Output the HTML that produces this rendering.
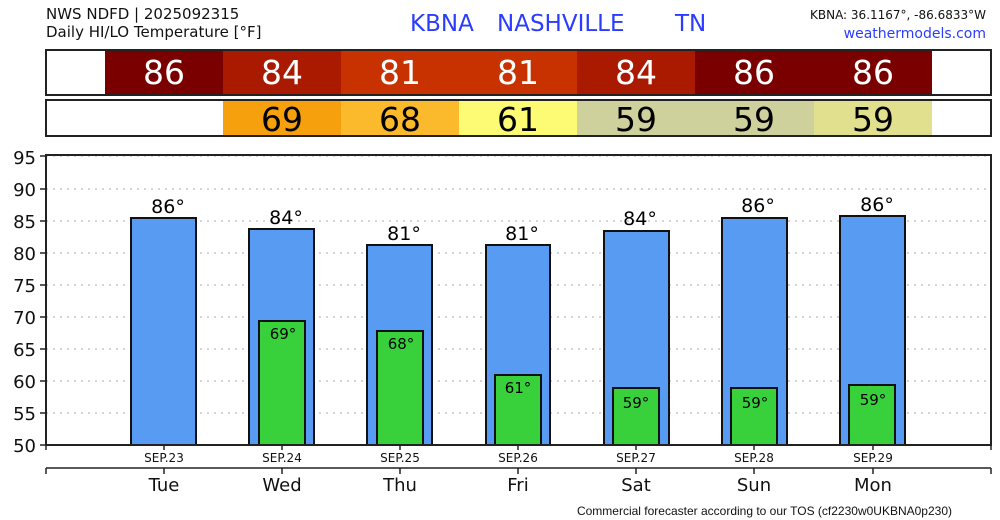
<!DOCTYPE html>
<html><head><style>body{margin:0;background:#fff}svg{display:block}</style></head><body>
<svg width="1000" height="520" xmlns="http://www.w3.org/2000/svg" font-family="DejaVu Sans, Liberation Sans, sans-serif">
<rect width="1000" height="520" fill="#fff"/>
<text x="46" y="19" font-size="15" fill="#111">NWS NDFD | 2025092315</text>
<text x="46" y="37" font-size="15" fill="#111">Daily HI/LO Temperature [°F]</text>
<text x="410" y="31" font-size="23" fill="#2a3cff">KBNA</text>
<text x="497" y="31" font-size="23" fill="#2a3cff">NASHVILLE</text>
<text x="675" y="31" font-size="23" fill="#2a3cff">TN</text>
<text x="986" y="19" font-size="12" fill="#111" text-anchor="end">KBNA: 36.1167°, -86.6833°W</text>
<text x="986" y="38" font-size="14" fill="#2a3cff" text-anchor="end">weathermodels.com</text>
<!-- row 1 -->
<rect x="46" y="50" width="945" height="45" fill="#fff" stroke="#222" stroke-width="2"/>
<rect x="105" y="51" width="118" height="43" fill="#7a0000"/>
<rect x="223" y="51" width="118" height="43" fill="#aa1a00"/>
<rect x="341" y="51" width="236" height="43" fill="#c83200"/>
<rect x="577" y="51" width="118" height="43" fill="#aa1a00"/>
<rect x="695" y="51" width="237" height="43" fill="#7a0000"/>
<g font-size="33" fill="#fff" text-anchor="middle">
<text x="164" y="84">86</text><text x="282" y="84">84</text><text x="400" y="84">81</text><text x="518" y="84">81</text><text x="636" y="84">84</text><text x="754" y="84">86</text><text x="873" y="84">86</text></g>
<!-- row 2 -->
<rect x="46" y="100" width="945" height="36" fill="#fff" stroke="#222" stroke-width="2"/>
<rect x="223" y="101" width="118" height="34" fill="#f7a00e"/>
<rect x="341" y="101" width="118" height="34" fill="#fbb92c"/>
<rect x="459" y="101" width="118" height="34" fill="#fdfb74"/>
<rect x="577" y="101" width="237" height="34" fill="#cfd19c"/>
<rect x="814" y="101" width="118" height="34" fill="#e0e08f"/>
<g font-size="33" fill="#000" text-anchor="middle">
<text x="282" y="131">69</text><text x="400" y="131">68</text><text x="518" y="131">61</text><text x="636" y="131">59</text><text x="754" y="131">59</text><text x="873" y="131">59</text></g>
<!-- grid -->
<g stroke="#aaa" stroke-width="1" stroke-dasharray="2,5">
<line x1="46" x2="991" y1="156" y2="156"/><line x1="46" x2="991" y1="189" y2="189"/><line x1="46" x2="991" y1="221" y2="221"/><line x1="46" x2="991" y1="253" y2="253"/><line x1="46" x2="991" y1="285" y2="285"/><line x1="46" x2="991" y1="317" y2="317"/><line x1="46" x2="991" y1="349" y2="349"/><line x1="46" x2="991" y1="381" y2="381"/><line x1="46" x2="991" y1="413" y2="413"/></g>
<g font-size="18" fill="#111" text-anchor="end">
<text x="36" y="164">95</text><text x="36" y="196">90</text><text x="36" y="228">85</text><text x="36" y="260">80</text><text x="36" y="292">75</text><text x="36" y="324">70</text><text x="36" y="356">65</text><text x="36" y="388">60</text><text x="36" y="420">55</text><text x="36" y="452">50</text></g>
<g stroke="#222" stroke-width="1.5"><line x1="40" x2="46" y1="156" y2="156"/><line x1="40" x2="46" y1="189" y2="189"/><line x1="40" x2="46" y1="221" y2="221"/><line x1="40" x2="46" y1="253" y2="253"/><line x1="40" x2="46" y1="285" y2="285"/><line x1="40" x2="46" y1="317" y2="317"/><line x1="40" x2="46" y1="349" y2="349"/><line x1="40" x2="46" y1="381" y2="381"/><line x1="40" x2="46" y1="413" y2="413"/><line x1="40" x2="46" y1="445" y2="445"/></g>
<!-- bars -->
<g fill="#579bf2" stroke="#111" stroke-width="2">
<rect x="131" y="218" width="65" height="227"/>
<rect x="249" y="229" width="65" height="216"/>
<rect x="367" y="245" width="65" height="200"/>
<rect x="486" y="245" width="64" height="200"/>
<rect x="604" y="231" width="65" height="214"/>
<rect x="722" y="218" width="65" height="227"/>
<rect x="840" y="216" width="65" height="229"/></g>
<g fill="#38d13c" stroke="#111" stroke-width="2">
<rect x="259" y="321" width="46" height="124"/>
<rect x="377" y="331" width="46" height="114"/>
<rect x="495" y="375" width="46" height="70"/>
<rect x="613" y="388" width="46" height="57"/>
<rect x="731" y="388" width="46" height="57"/>
<rect x="849" y="385" width="46" height="60"/></g>
<g font-size="19" fill="#000" text-anchor="middle">
<text x="168" y="213">86°</text><text x="286" y="224">84°</text><text x="404" y="240">81°</text><text x="522" y="240">81°</text><text x="640" y="225">84°</text><text x="758" y="212">86°</text><text x="877" y="211">86°</text></g>
<g font-size="15" fill="#000" text-anchor="middle">
<text x="283" y="339">69°</text><text x="401" y="349">68°</text><text x="518" y="393">61°</text><text x="636" y="408">59°</text><text x="755" y="408">59°</text><text x="873" y="405">59°</text></g>
<!-- frame -->
<rect x="46" y="155" width="945" height="290" fill="none" stroke="#222" stroke-width="2"/>
<g stroke="#222" stroke-width="1.5">
<line x1="46" x2="46" y1="445" y2="450"/><line x1="164" x2="164" y1="445" y2="450"/><line x1="282" x2="282" y1="445" y2="450"/><line x1="400" x2="400" y1="445" y2="450"/><line x1="518" x2="518" y1="445" y2="450"/><line x1="636" x2="636" y1="445" y2="450"/><line x1="754" x2="754" y1="445" y2="450"/><line x1="873" x2="873" y1="445" y2="450"/><line x1="991" x2="991" y1="445" y2="450"/>
<line x1="46" x2="991" y1="468" y2="468"/><line x1="46" x2="46" y1="468" y2="474"/><line x1="991" x2="991" y1="468" y2="474"/>
<line x1="164" x2="164" y1="468" y2="474"/><line x1="282" x2="282" y1="468" y2="474"/><line x1="400" x2="400" y1="468" y2="474"/><line x1="518" x2="518" y1="468" y2="474"/><line x1="636" x2="636" y1="468" y2="474"/><line x1="754" x2="754" y1="468" y2="474"/><line x1="873" x2="873" y1="468" y2="474"/></g>
<g font-size="12" fill="#111" text-anchor="middle">
<text x="164" y="462">SEP.23</text><text x="282" y="462">SEP.24</text><text x="400" y="462">SEP.25</text><text x="518" y="462">SEP.26</text><text x="636" y="462">SEP.27</text><text x="754" y="462">SEP.28</text><text x="873" y="462">SEP.29</text></g>
<g font-size="18" fill="#111" text-anchor="middle">
<text x="164" y="491">Tue</text><text x="282" y="491">Wed</text><text x="400" y="491">Thu</text><text x="518" y="491">Fri</text><text x="636" y="491">Sat</text><text x="754" y="491">Sun</text><text x="873" y="491">Mon</text></g>
<text x="952" y="515" font-size="12" fill="#111" text-anchor="end" font-family="Liberation Sans, sans-serif">Commercial forecaster according to our TOS (cf2230w0UKBNA0p230)</text>
</svg>
</body></html>
